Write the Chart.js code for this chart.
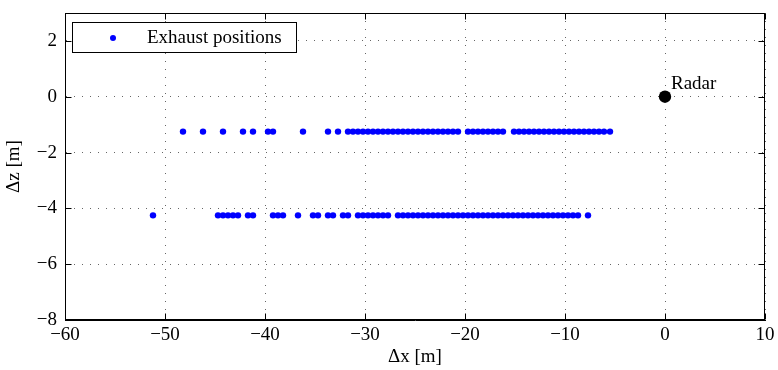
<!DOCTYPE html>
<html>
<head>
<meta charset="utf-8">
<script src="https://cdn.jsdelivr.net/npm/chart.js@4.4.1/dist/chart.umd.min.js"></script>
<style>
  html, body { margin: 0; padding: 0; background: #fff; }
  #wrap { width: 778px; height: 370px; }
</style>
</head>
<body>
<div id="wrap"><canvas id="c" width="778" height="370"></canvas></div>
<script>
// ---- data ----
const exhaustLabel = "Exhaust positions";
const radarLabel = "Radar";
const xTop = [-48.2, -46.2, -44.2, -42.2, -41.2, -39.7, -39.2, -36.2, -33.7, -32.7,
  -31.7, -31.2, -30.7, -30.2, -29.7, -29.2, -28.7, -28.2, -27.7, -27.2, -26.7, -26.2,
  -25.7, -25.2, -24.7, -24.2, -23.7, -23.2, -22.7, -22.2, -21.7, -21.2, -20.7,
  -19.7, -19.2, -18.7, -18.2, -17.7, -17.2, -16.7, -16.2,
  -15.1, -14.6, -14.1, -13.6, -13.1, -12.6, -12.1, -11.6, -11.1, -10.6, -10.1,
  -9.6, -9.1, -8.6, -8.1, -7.6, -7.1, -6.6, -6.1, -5.5];
const zTop = -1.25;
const xBottom = [-51.2, -44.7, -44.2, -43.7, -43.2, -42.7, -41.7, -41.2, -39.2, -38.7, -38.2,
  -36.7, -35.2, -34.7, -33.7, -33.2, -32.2, -31.7,
  -30.7, -30.2, -29.7, -29.2, -28.7, -28.2, -27.7,
  -26.7, -26.2, -25.7, -25.2, -24.7, -24.2, -23.7, -23.2, -22.7, -22.2, -21.7, -21.2,
  -20.7, -20.2, -19.7, -19.2, -18.7, -18.2, -17.7, -17.2, -16.7, -16.2, -15.7, -15.2,
  -14.7, -14.2, -13.7, -13.2, -12.7, -12.2, -11.7, -11.2, -10.7, -10.2, -9.7, -9.2, -8.7,
  -7.7];
const zBottom = -4.25;
const radarX = [0];
const radarZ = [0];
const xTicks = [-60, -50, -40, -30, -20, -10, 0, 10];
const zTicks = [-8, -6, -4, -2, 0, 2];
const xTitle = "\u0394x [m]";
const zTitle = "\u0394z [m]";

// ---- build points ----
const exhaustPts = xTop.map(x => ({x: x, y: zTop})).concat(xBottom.map(x => ({x: x, y: zBottom})));
const radarPts = radarX.map((x, i) => ({x: x, y: radarZ[i]}));

const FONT = "'Liberation Serif', 'Times New Roman', serif";
const FS = 19;
const fmt = v => String(v).replace('-', '\u2212');

const framePlugin = {
  id: 'frame',
  afterDraw(chart) {
    const ctx = chart.ctx, a = chart.chartArea;
    const xs = chart.scales.x, ys = chart.scales.y;
    ctx.save();
    ctx.strokeStyle = '#000';
    ctx.lineWidth = 1;
    ctx.setLineDash([]);
    const L = Math.round(a.left) + 0.5, R = Math.round(a.right) - 0.5;
    const T = Math.round(a.top) + 0.5, B = Math.round(a.bottom) - 0.5;
    ctx.strokeRect(L, T, R - L, B - T);
    const tl = 6;
    ctx.beginPath();
    xTicks.forEach(v => {
      const px = Math.round(xs.getPixelForValue(v)) + 0.5;
      ctx.moveTo(px, B); ctx.lineTo(px, B - tl);
      ctx.moveTo(px, T); ctx.lineTo(px, T + tl);
    });
    zTicks.forEach(v => {
      const py = Math.round(ys.getPixelForValue(v)) + 0.5;
      ctx.moveTo(L, py); ctx.lineTo(L + tl, py);
      ctx.moveTo(R, py); ctx.lineTo(R - tl, py);
    });
    ctx.stroke();

    // radar label
    const rx = xs.getPixelForValue(radarX[0]), ry = ys.getPixelForValue(radarZ[0]);
    ctx.fillStyle = '#000';
    ctx.font = FS + 'px ' + FONT;
    ctx.textAlign = 'left';
    ctx.textBaseline = 'alphabetic';
    ctx.fillText(radarLabel, rx + 6, ry - 8);

    // legend box
    const lx = a.left + 7.5, ly = a.top + 9.5, lw = 224, lh = 30;
    ctx.fillStyle = '#fff';
    ctx.fillRect(lx, ly, lw, lh);
    ctx.strokeRect(lx, ly, lw, lh);
    ctx.fillStyle = '#0000ff';
    ctx.beginPath();
    ctx.arc(lx + 40.5, ly + 15.5, 3, 0, Math.PI * 2);
    ctx.fill();
    ctx.fillStyle = '#000';
    ctx.textBaseline = 'middle';
    ctx.fillText(exhaustLabel, lx + 74.5, ly + 16);
    ctx.restore();
  }
};

new Chart(document.getElementById('c'), {
  type: 'scatter',
  data: {
    datasets: [
      { label: exhaustLabel, data: exhaustPts, backgroundColor: '#0000ff', borderWidth: 0,
        pointRadius: 3.2, pointHoverRadius: 3.2 },
      { label: radarLabel, data: radarPts, backgroundColor: '#000', borderWidth: 0,
        pointRadius: 6.2, pointHoverRadius: 6.2 }
    ]
  },
  options: {
    responsive: false,
    animation: false,
    devicePixelRatio: 1,
    layout: { padding: { left: 0, top: 13, right: 13, bottom: 0 } },
    plugins: { legend: { display: false }, tooltip: { enabled: false } },
    scales: {
      x: {
        type: 'linear', min: -60, max: 10,
        afterBuildTicks: s => { s.ticks = xTicks.map(v => ({value: v})); },
        afterFit: s => { s.height = 50; s.paddingLeft = 0; s.paddingRight = 0; s.paddingTop = 0; s.paddingBottom = 0; },
        grid: { color: 'rgba(0,0,0,0.6)', lineWidth: 1, drawTicks: false },
        border: { display: true, color: '#000', dash: [1, 7] },
        ticks: { color: '#000', font: { family: FONT, size: FS }, padding: 4, maxRotation: 0,
                 callback: v => fmt(v) },
        title: { display: true, text: xTitle, color: '#000', font: { family: FONT, size: FS },
                 padding: { top: 0, bottom: 2 } }
      },
      y: {
        type: 'linear', min: -8, max: 3,
        afterBuildTicks: s => { s.ticks = zTicks.map(v => ({value: v})); },
        afterFit: s => { s.width = 65; s.paddingTop = 0; s.paddingBottom = 0; s.paddingLeft = 0; s.paddingRight = 0; },
        grid: { color: 'rgba(0,0,0,0.6)', lineWidth: 1, drawTicks: false },
        border: { display: true, color: '#000', dash: [1, 7] },
        ticks: { color: '#000', font: { family: FONT, size: FS }, padding: 8,
                 callback: v => fmt(v) },
        title: { display: true, text: zTitle, color: '#000', font: { family: FONT, size: FS },
                 padding: { top: 3, bottom: 0 } }
      }
    }
  },
  plugins: [framePlugin]
});
</script>
</body>
</html>
